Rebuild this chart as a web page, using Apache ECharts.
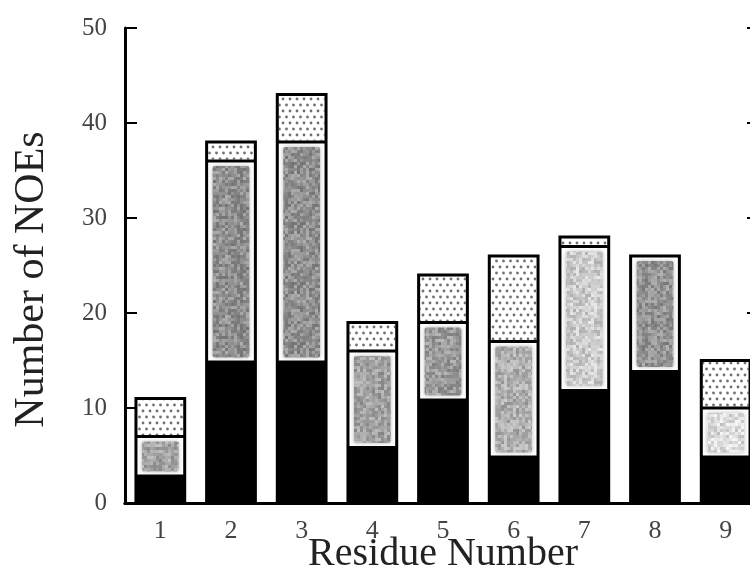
<!DOCTYPE html>
<html>
<head>
<meta charset="utf-8">
<script src="https://cdn.jsdelivr.net/npm/echarts@6/dist/echarts.min.js"></script>
<style>
    html, body { margin: 0; padding: 0; background: #fff; }
    #chart { width: 750px; height: 585px; }
</style>
</head>
<body>
<div id="chart"></div>
<script>
const residues = ['1', '2', '3', '4', '5', '6', '7', '8', '9'];
// three stacked parts of every bar, bottom to top
const solidNoes = [3, 15, 15, 6, 11, 5, 12, 14, 5];
const greyNoes = [4, 21, 23, 10, 8, 12, 15, 12, 5];
const dottedNoes = [4, 2, 5, 3, 5, 9, 1, 0, 5];
const yTicks = [0, 10, 20, 30, 40, 50];

// mean grey of the speckled part, per bar (style only)
const greyShade = [165, 145, 145, 160, 155, 175, 205, 148, 220];

const serif = '"Liberation Serif", "DejaVu Serif", serif';

function hash(n) {
    const s = Math.sin(n * 12.9898 + 78.233) * 43758.5453;
    return s - Math.floor(s);
}

function makeSpeckle(mean, seed) {
    const c = document.createElement('canvas');
    c.width = 60; c.height = 60;
    const ctx = c.getContext('2d');
    for (let y = 0; y < 60; y += 3) {
        for (let x = 0; x < 60; x += 3) {
            const v = Math.round(mean + (hash(seed * 1000 + y * 60 + x) - 0.5) * 60);
            const g = Math.max(60, Math.min(245, v));
            ctx.fillStyle = 'rgb(' + g + ',' + g + ',' + g + ')';
            ctx.fillRect(x, y, 3, 3);
        }
    }
    return c;
}

function makeDots() {
    const c = document.createElement('canvas');
    c.width = 14; c.height = 12;
    const ctx = c.getContext('2d');
    ctx.fillStyle = '#fff';
    ctx.fillRect(0, 0, 14, 12);
    ctx.fillStyle = '#707070';
    [[3, 3], [10, 3], [6.5, 9], [13.5, 9], [-0.5, 9]].forEach(p => {
        ctx.beginPath();
        ctx.arc(p[0], p[1], 1.4, 0, Math.PI * 2);
        ctx.fill();
    });
    return c;
}

const dotPattern = { image: makeDots(), repeat: 'repeat' };
const speckles = greyShade.map((m, i) => ({ image: makeSpeckle(m, i + 1), repeat: 'repeat' }));

const barData = residues.map((r, i) => [i, solidNoes[i], greyNoes[i], dottedNoes[i]]);

function renderBar(params, api) {
    const i = api.value(0);
    const b = api.value(1), g = api.value(2), d = api.value(3);
    const base = api.coord([i, 0]);
    const pB = api.coord([i, b]);
    const pG = api.coord([i, b + g]);
    const pT = api.coord([i, b + g + d]);
    const w = api.size([1, 0])[0] * 0.69;
    const x = base[0] - w / 2;
    const children = [];

    children.push({
        type: 'rect',
        shape: { x: x, y: pT[1], width: w, height: base[1] - pT[1] },
        style: { fill: '#fff' }
    });
    children.push({
        type: 'rect',
        shape: { x: x, y: pB[1], width: w, height: base[1] - pB[1] },
        style: { fill: '#000' }
    });
    if (g > 0) {
        const top = pG[1] + 5;
        children.push({
            type: 'rect',
            shape: { x: x + 6, y: top, width: w - 12, height: pB[1] - 3 - top, r: 2 },
            style: { fill: speckles[i], shadowBlur: 4, shadowColor: 'rgba(120,120,120,0.5)' }
        });
    }
    if (d > 0) {
        children.push({
            type: 'rect',
            shape: { x: x + 1.5, y: pT[1] + 1.5, width: w - 3, height: pG[1] - pT[1] - 3 },
            style: { fill: dotPattern }
        });
        children.push({
            type: 'line',
            shape: { x1: x, y1: pG[1], x2: x + w, y2: pG[1] },
            style: { stroke: '#000', lineWidth: 3 }
        });
    }
    children.push({
        type: 'rect',
        shape: { x: x, y: pT[1], width: w, height: base[1] - pT[1] },
        style: { fill: null, stroke: '#000', lineWidth: 3 }
    });
    return { type: 'group', children: children };
}

const chart = echarts.init(document.getElementById('chart'));

const option = {
    animation: false,
    backgroundColor: '#fff',
    grid: { left: 125, top: 28, bottom: 82, width: 636, outerBoundsMode: 'none' },
    xAxis: [
        {
            type: 'category',
            data: residues,
            position: 'bottom',
            name: 'Residue Number',
            nameLocation: 'middle',
            nameGap: 31,
            nameMoveOverlap: false,
            nameTextStyle: { fontFamily: serif, fontSize: 40, color: '#222' },
            axisLine: { lineStyle: { color: '#000', width: 3 } },
            axisTick: { show: false },
            axisLabel: { fontFamily: serif, fontSize: 26, color: '#444', margin: 15 }
        },
        {
            type: 'category',
            data: residues,
            position: 'top',
            axisLine: { lineStyle: { color: '#000', width: 3 } },
            axisTick: { inside: true, length: 12, alignWithLabel: true, lineStyle: { color: '#000', width: 2 } },
            axisLabel: { show: false }
        }
    ],
    yAxis: [
        {
            type: 'value',
            min: yTicks[0],
            max: yTicks[yTicks.length - 1],
            interval: 10,
            name: 'Number of NOEs',
            nameLocation: 'middle',
            nameGap: 72,
            nameMoveOverlap: false,
            nameTextStyle: { fontFamily: serif, fontSize: 42, color: '#222', padding: [0, 28, 0, 0] },
            axisLine: { show: true, lineStyle: { color: '#000', width: 3 } },
            axisTick: { show: true, inside: true, length: 12, lineStyle: { color: '#000', width: 2 } },
            axisLabel: { fontFamily: serif, fontSize: 25, color: '#444', margin: 18 },
            splitLine: { show: false }
        },
        {
            type: 'value',
            position: 'right',
            min: yTicks[0],
            max: yTicks[yTicks.length - 1],
            interval: 10,
            axisLine: { show: true, lineStyle: { color: '#000', width: 3 } },
            axisTick: { show: true, inside: true, length: 14, lineStyle: { color: '#000', width: 2 } },
            axisLabel: { show: false },
            splitLine: { show: false }
        }
    ],
    series: [{
        type: 'custom',
        renderItem: renderBar,
        encode: { x: 0, y: [1, 2, 3] },
        data: barData,
        clip: false
    }]
};

chart.setOption(option);
</script>
</body>
</html>
